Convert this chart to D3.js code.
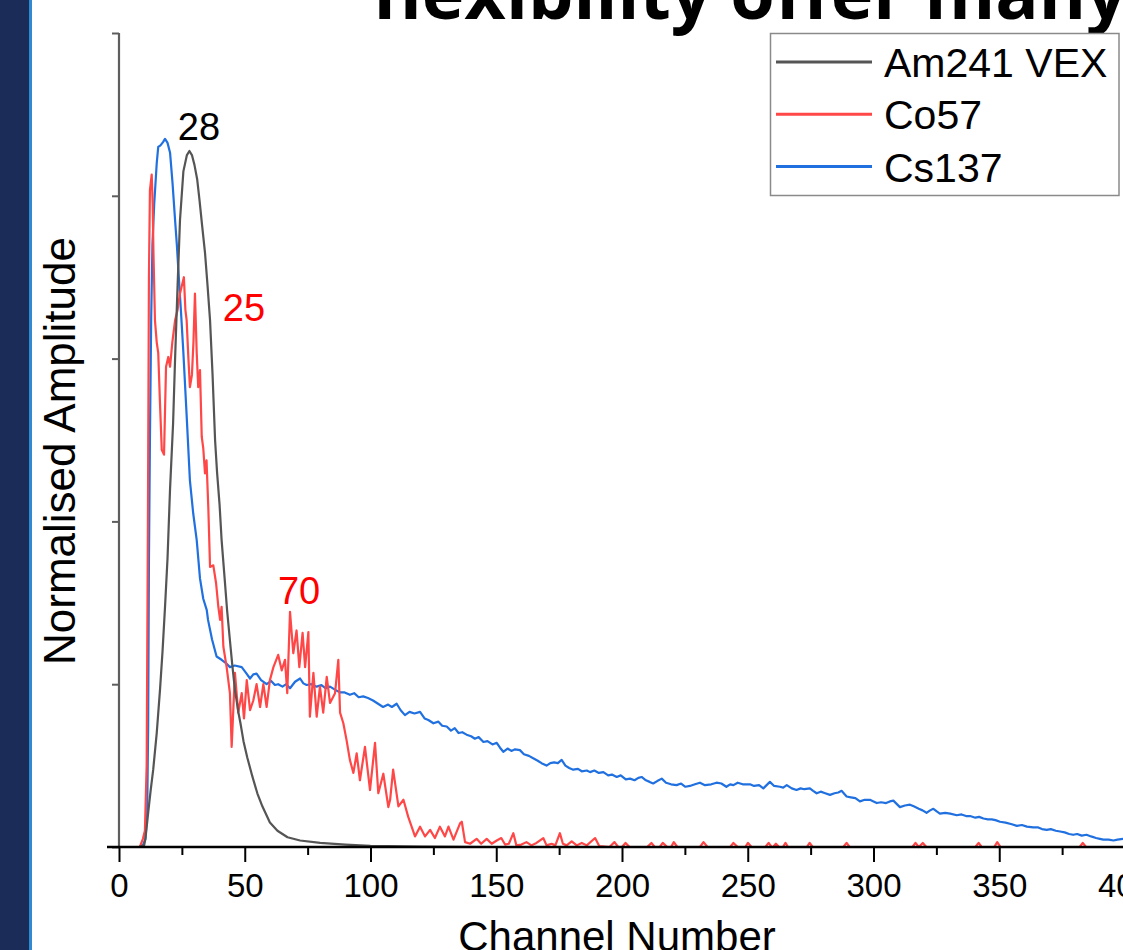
<!DOCTYPE html>
<html><head><meta charset="utf-8">
<script src="https://cdn.jsdelivr.net/npm/d3@7"></script>
<style>
html,body{margin:0;padding:0;background:#fff;}
svg{display:block;}
</style></head>
<body>
<svg id="chart" width="1123" height="950"></svg>
<script>
// ---------- data ----------
const seriesNames = ["Am241 VEX", "Co57", "Cs137"];
const seriesColors = ["#555555", "#ff4747", "#2170e0"];
const xTicks = [0, 50, 100, 150, 200, 250, 300, 350, 400];
const yTicks = [0, 0.2, 0.4, 0.6, 0.8, 1.0];

const am241 = [[8,0],[10,0.002],[10.5,0.01],[11.7,0.045],[12.6,0.07],[13.6,0.095],[15,0.14],[16.3,0.193],[17.3,0.24],[18.3,0.295],[19.3,0.355],[20.3,0.44],[21.5,0.52],[22.3,0.6],[23.3,0.69],[24.25,0.77],[25.6,0.83],[27,0.85],[28,0.855],[29,0.85],[30,0.838],[31.1,0.82],[32,0.795],[33,0.765],[34.2,0.73],[35.2,0.69],[36.2,0.647],[37.2,0.58],[38.2,0.5],[39,0.46],[40,0.42],[40.8,0.377],[42,0.33],[43,0.29],[44.1,0.254],[45,0.225],[46.1,0.193],[47.5,0.165],[48.3,0.152],[49.5,0.13],[51,0.11],[53,0.087],[55,0.066],[57,0.05],[60,0.03],[63,0.02],[67,0.012],[72,0.008],[80,0.005],[90,0.003],[100,0.0015],[120,0.0005],[150,0]];

const co57 = [[6,0],[8.3,0],[9.5,0.01],[10.3,0.02],[11,0.1],[11.5,0.4],[11.9,0.7],[12.3,0.807],[13,0.826],[13.4,0.79],[13.7,0.73],[14.3,0.647],[15,0.62],[15.6,0.607],[16.3,0.545],[17,0.488],[17.9,0.482],[18.7,0.59],[19.6,0.602],[20.3,0.59],[21.2,0.62],[22.3,0.647],[23.3,0.66],[24.25,0.68],[25.8,0.70],[26.4,0.66],[26.9,0.647],[27.6,0.6],[28.2,0.565],[29,0.58],[29.6,0.62],[30.2,0.68],[30.9,0.607],[31.5,0.565],[32.2,0.586],[32.9,0.504],[33.5,0.49],[34.2,0.459],[34.8,0.475],[35.5,0.418],[36.2,0.344],[37.5,0.346],[38.6,0.324],[39.5,0.295],[40.2,0.279],[40.8,0.295],[41.5,0.246],[42.8,0.221],[44.1,0.189],[44.8,0.123],[46.1,0.214],[47.4,0.165],[48.8,0.189],[49.7,0.158],[50.8,0.205],[52.1,0.168],[53.4,0.18],[54.7,0.2],[56.1,0.172],[57.4,0.2],[58.7,0.172],[60,0.205],[61.4,0.221],[63.3,0.236],[64.7,0.217],[66,0.23],[66.9,0.189],[68,0.289],[69.3,0.238],[70.6,0.266],[71.7,0.221],[73,0.263],[74,0.221],[75.3,0.264],[75.9,0.16],[77.3,0.214],[78.6,0.16],[79.9,0.197],[81.2,0.165],[82.6,0.209],[83.9,0.177],[85.9,0.189],[87.2,0.23],[87.9,0.165],[89.2,0.152],[90.5,0.131],[91.8,0.107],[93.2,0.091],[94.5,0.115],[95.8,0.082],[97.8,0.123],[99.8,0.07],[101.8,0.128],[103.1,0.066],[105.1,0.09],[107.1,0.049],[107.8,0.058],[109,0.095],[111.1,0.05],[113.1,0.058],[115,0.037],[117.7,0.013],[119.7,0.025],[121.7,0.013],[123.7,0.021],[125.6,0.011],[127.6,0.025],[129.6,0.013],[131,0.025],[133,0.009],[135.6,0.029],[136.3,0.031],[137.6,0.006],[139.6,0.004],[142.2,0.01],[144,0.004],[146.2,0.01],[148.2,0.004],[150.2,0.008],[152,0.011],[153.5,0.003],[155,0.004],[156.8,0.017],[158,0.002],[160,0.003],[162,0.006],[164,0.002],[166,0.005],[168.7,0.011],[170,0.002],[172,0.004],[173.5,0.002],[175.3,0.017],[176.5,0.004],[178,0.002],[180,0.007],[182,0.002],[184,0.005],[186,0.002],[189.3,0.011],[191,0.001],[195,0],[197,0.006],[198.5,0],[200,0],[201.4,0.005],[203,0],[210,0],[211.7,0.005],[213,0],[215,0],[216.2,0.005],[218,0],[219.5,0],[220.6,0.006],[222,0],[231,0],[232.4,0.006],[234,0],[243,0],[244.3,0.005],[246,0],[249,0],[250.1,0.005],[251.5,0],[257,0],[258.3,0.005],[259.5,0],[260,0],[261.2,0.004],[262.5,0],[264,0],[265,0.005],[266,0],[273.5,0],[274.6,0.005],[275.8,0],[288,0],[289.3,0.005],[290.5,0],[315.5,0],[316.7,0.005],[318,0],[319.6,0.005],[321,0],[340.5,0],[341.8,0.005],[343,0],[348,0],[349.2,0.006],[350.5,0],[382,0],[383.2,0.005],[384.5,0],[400,0]];

const cs137 = [[8,0],[9.5,0.002],[10.5,0.01],[11.2,0.04],[11.6,0.15],[11.9,0.35],[12.3,0.5],[12.8,0.65],[13.3,0.74],[14,0.79],[15,0.84],[15.6,0.86],[16.5,0.862],[17.5,0.866],[18.3,0.87],[19.3,0.865],[20.3,0.853],[21.3,0.815],[22.3,0.77],[23,0.74],[23.6,0.709],[24.6,0.66],[25.6,0.607],[26.9,0.53],[28.2,0.45],[29.5,0.41],[30.9,0.377],[32.2,0.33],[33.5,0.305],[34.9,0.291],[35.4,0.279],[37,0.255],[38.8,0.234],[40.8,0.23],[42.5,0.226],[44.1,0.221],[46,0.223],[48.8,0.221],[50.5,0.214],[52.1,0.207],[53.4,0.212],[54.7,0.213],[56.5,0.205],[58.7,0.2],[60.5,0.204],[62,0.199],[63.3,0.2],[65,0.197],[66.5,0.2],[68,0.195],[70,0.203],[72,0.207],[73.3,0.201],[74.6,0.199],[76.5,0.2],[78.6,0.197],[80.5,0.199],[82.2,0.195],[83.9,0.197],[86,0.193],[87.9,0.19],[89.5,0.19],[91.8,0.187],[93.5,0.189],[95.3,0.184],[97.1,0.185],[99,0.183],[101,0.18],[103,0.176],[105,0.172],[107,0.175],[108.5,0.172],[110.4,0.176],[112,0.168],[113.7,0.162],[115.5,0.166],[117.5,0.164],[119.7,0.166],[121.5,0.158],[123,0.156],[125,0.152],[127,0.154],[128.5,0.149],[130.3,0.148],[132,0.143],[133.5,0.146],[135,0.14],[136.5,0.141],[138.2,0.138],[140,0.136],[141.5,0.133],[143,0.135],[144.9,0.129],[146.5,0.13],[148.5,0.126],[150.2,0.128],[151.5,0.122],[152.8,0.117],[154.5,0.121],[156,0.118],[157.5,0.12],[159.4,0.119],[161,0.114],[163,0.112],[164.7,0.109],[166.5,0.106],[168,0.103],[170,0.1],[171.5,0.103],[173,0.104],[174.5,0.103],[176,0.107],[177.5,0.1],[179,0.097],[180.6,0.095],[182.5,0.096],[184,0.093],[186,0.094],[187.3,0.092],[189,0.094],[190.8,0.091],[192.6,0.092],[194.5,0.088],[196,0.089],[197.9,0.086],[199.5,0.088],[201.5,0.083],[203.2,0.084],[205,0.082],[206.5,0.085],[207.8,0.086],[209.5,0.082],[211,0.08],[212.4,0.078],[214,0.081],[215.8,0.084],[217.5,0.079],[219.5,0.077],[221.7,0.076],[223.5,0.078],[225.2,0.074],[227,0.075],[229,0.077],[231,0.079],[233,0.076],[235.5,0.077],[237.6,0.079],[239.5,0.078],[241.5,0.074],[243,0.077],[244.3,0.076],[246,0.079],[248,0.077],[250.9,0.077],[252.5,0.075],[254.5,0.076],[256.2,0.072],[257.5,0.076],[258.8,0.08],[260.5,0.075],[262.8,0.074],[264.1,0.073],[265.5,0.076],[267.5,0.072],[269.4,0.07],[271,0.072],[272.5,0.071],[274.7,0.072],[276,0.069],[277.4,0.066],[279,0.068],[280.8,0.066],[282.7,0.064],[284.5,0.066],[286,0.067],[287.3,0.069],[289.3,0.062],[291,0.061],[292.8,0.06],[294.6,0.056],[296.5,0.058],[298.6,0.058],[300,0.056],[301.3,0.054],[303,0.055],[305,0.054],[306.5,0.056],[307.9,0.057],[309.2,0.053],[310.5,0.049],[312.5,0.051],[314.5,0.052],[316,0.05],[318,0.047],[319.5,0.045],[321.1,0.042],[322.5,0.045],[323.8,0.047],[325,0.044],[326.4,0.041],[328.5,0.042],[330.5,0.041],[333.1,0.039],[335,0.04],[336.8,0.038],[338.4,0.038],[340.5,0.036],[342,0.037],[343.7,0.035],[345.5,0.034],[347,0.034],[348.5,0.033],[350.3,0.031],[352.5,0.03],[355,0.028],[357,0.026],[359,0.027],[361,0.025],[363.5,0.024],[365.5,0.024],[367,0.022],[368.9,0.021],[370.5,0.022],[372.5,0.02],[374.2,0.019],[376,0.018],[377.8,0.016],[379.4,0.015],[381,0.016],[382.8,0.014],[384.7,0.015],[386.5,0.013],[388.5,0.011],[390,0.01],[391.4,0.009],[393.5,0.009],[395.4,0.008],[397,0.009],[399.2,0.01],[400,0.01]];

const annotations = [
  {text: "28", ch: 31.8, amp: 0.869, color: "#000"},
  {text: "25", ch: 49.7, amp: 0.646, color: "#ff0000"},
  {text: "70", ch: 71.6, amp: 0.299, color: "#ff0000"}
];
const titleText = "flexibility offer many";
const xLabel = "Channel Number";
const yLabel = "Normalised Amplitude";

(function draw() {
  const svg = d3.select("#chart");
  const mL = 119, mR = 1125, mT = 33, mB = 847;
  const x = d3.scaleLinear().domain([0, 400]).range([mL, mR]);
  const y = d3.scaleLinear().domain([0, 1]).range([mB, mT]);
  const font = "'Liberation Sans', Arial, sans-serif";

  // slide decoration
  svg.append("rect").attr("x", 0).attr("y", 0).attr("width", 29).attr("height", 950).attr("fill", "#1b2c58");
  svg.append("rect").attr("x", 29).attr("y", 0).attr("width", 3).attr("height", 950).attr("fill", "#2f8ad2");

  // title (cut off at top, as in the source slide)
  svg.append("text").attr("x", 372).attr("y", 19)
    .attr("font-family", "'Open Sans', sans-serif").attr("font-weight", 700)
    .attr("font-size", 72).attr("fill", "#000").text(titleText);

  // lines
  const line = d3.line().x(d => x(d[0])).y(d => y(d[1]));
  const plot = svg.append("g");
  [[cs137, 2], [co57, 1], [am241, 0]].forEach(([data, idx]) => {
    plot.append("path").datum(data).attr("d", line)
      .attr("fill", "none").attr("stroke", seriesColors[idx])
      .attr("stroke-width", 2.2).attr("stroke-linejoin", "round");
  });

  // y axis
  const gy = svg.append("g").attr("transform", `translate(${mL},0)`)
    .call(d3.axisLeft(y).tickValues(yTicks).tickSize(7).tickFormat(""));
  gy.select(".domain").attr("stroke", "#5e5e5e").attr("stroke-width", 2.2).attr("d", `M0,${mT}V${mB}`);
  gy.selectAll(".tick line").attr("stroke", "#5e5e5e").attr("stroke-width", 2);

  // x axis
  const minor = d3.range(25, 400, 50);
  const gxm = svg.append("g").attr("transform", `translate(0,${mB})`)
    .call(d3.axisBottom(x).tickValues(minor).tickSize(8).tickFormat(""));
  gxm.select(".domain").remove();
  gxm.selectAll(".tick line").attr("stroke", "#000").attr("stroke-width", 2);
  const gx = svg.append("g").attr("transform", `translate(0,${mB})`)
    .call(d3.axisBottom(x).tickValues(xTicks).tickSize(15).tickPadding(12).tickFormat(d3.format("d")));
  gx.select(".domain").attr("stroke", "#000").attr("stroke-width", 2.5).attr("d", `M${mL - 12},0H${mR + 5}`);
  gx.selectAll(".tick line").attr("stroke", "#000").attr("stroke-width", 2);
  gx.selectAll(".tick text").attr("font-family", font).attr("font-size", 33).attr("fill", "#000");

  // axis titles
  svg.append("text").attr("x", 617).attr("y", 951).attr("text-anchor", "middle")
    .attr("font-family", font).attr("font-size", 42).attr("fill", "#000").text(xLabel);
  svg.append("text").attr("transform", "translate(75,451) rotate(-90)").attr("text-anchor", "middle")
    .attr("font-family", font).attr("font-size", 44).attr("fill", "#000").text(yLabel);

  // annotations
  svg.selectAll("text.ann").data(annotations).enter().append("text").attr("class", "ann")
    .attr("x", d => x(d.ch)).attr("y", d => y(d.amp)).attr("text-anchor", "middle")
    .attr("font-family", font).attr("font-size", 38).attr("fill", d => d.color).text(d => d.text);

  // legend
  const lg = svg.append("g");
  lg.append("rect").attr("x", 770.5).attr("y", 33.5).attr("width", 348.5).attr("height", 162)
    .attr("fill", "#fff").attr("stroke", "#8a8a8a").attr("stroke-width", 1.5);
  seriesNames.forEach((name, i) => {
    const cy = 62 + i * 52.3;
    lg.append("line").attr("x1", 776).attr("x2", 872).attr("y1", cy).attr("y2", cy)
      .attr("stroke", seriesColors[i]).attr("stroke-width", 3);
    lg.append("text").attr("x", 884).attr("y", cy + 15).attr("font-family", font)
      .attr("font-size", 41).attr("fill", "#000").text(name);
  });
})();
</script>
</body></html>
